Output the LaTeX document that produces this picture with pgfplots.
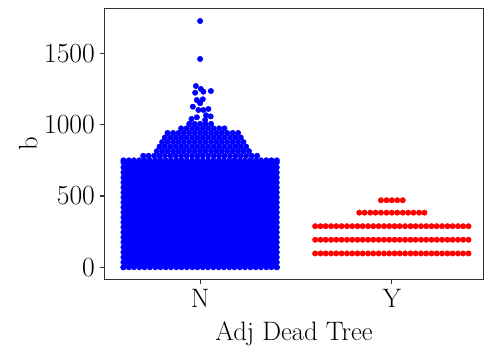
\documentclass[border=0pt]{standalone}
\usepackage{pgfplots}
\usepackage{pgfplotstable}
\pgfplotsset{compat=1.18}
\begin{document}
% N group: bottom and top rows of the dense block
\pgfplotstableread{
x ybot ytop
-0.400 0 750
-0.372 0 750
-0.345 0 750
-0.317 0 750
-0.290 0 750
-0.262 0 750
-0.234 0 750
-0.207 0 750
-0.179 0 750
-0.152 0 750
-0.124 0 750
-0.097 0 750
-0.069 0 750
-0.041 0 750
-0.014 0 750
0.014 0 750
0.041 0 750
0.069 0 750
0.097 0 750
0.124 0 750
0.152 0 750
0.179 0 750
0.207 0 750
0.234 0 750
0.262 0 750
0.290 0 750
0.317 0 750
0.345 0 750
0.372 0 750
0.400 0 750
}\Nrows
% N group: left and right edges of the dense block
\pgfplotstableread{
y xl xr
0 -0.4 0.4
35 -0.4 0.4
70 -0.4 0.4
105 -0.4 0.4
140 -0.4 0.4
175 -0.4 0.4
210 -0.4 0.4
245 -0.4 0.4
280 -0.4 0.4
315 -0.4 0.4
350 -0.4 0.4
385 -0.4 0.4
420 -0.4 0.4
455 -0.4 0.4
490 -0.4 0.4
525 -0.4 0.4
560 -0.4 0.4
595 -0.4 0.4
630 -0.4 0.4
665 -0.4 0.4
700 -0.4 0.4
735 -0.4 0.4
}\Nsides
% Y group: three full rows
\pgfplotstableread{
x ya yb yc
0.600 97 193 288
0.628 97 193 288
0.655 97 193 288
0.683 97 193 288
0.710 97 193 288
0.738 97 193 288
0.766 97 193 288
0.793 97 193 288
0.821 97 193 288
0.848 97 193 288
0.876 97 193 288
0.903 97 193 288
0.931 97 193 288
0.959 97 193 288
0.986 97 193 288
1.014 97 193 288
1.041 97 193 288
1.069 97 193 288
1.097 97 193 288
1.124 97 193 288
1.152 97 193 288
1.179 97 193 288
1.207 97 193 288
1.234 97 193 288
1.262 97 193 288
1.290 97 193 288
1.317 97 193 288
1.345 97 193 288
1.372 97 193 288
1.400 97 193 288
}\Yrows
\begin{tikzpicture}
\begin{axis}[
  scale only axis, width=284.7pt, height=203.5pt,
  xmin=-0.5, xmax=1.48, ymin=-86.5, ymax=1816.5,
  xtick={0,1}, xticklabels={N,Y},
  ytick={0,500,1000,1500},
  /pgf/number format/set thousands separator={},
  tick align=outside, xtick pos=bottom, ytick pos=left,
  major tick length=3.5pt,
  axis line style={black!80, line width=0.8pt},
  tick style={black!80, line width=0.8pt},
  tick label style={font=\fontsize{20}{24}\selectfont},
  label style={font=\fontsize{20}{24}\selectfont},
  xlabel={Adj Dead Tree}, ylabel={b},
  xlabel style={yshift=-4pt},
  ylabel style={yshift=-2pt},
  clip=false,
  dots/.style={only marks, mark=*, mark size=2pt, mark options={draw=none}},
]
% dense body of the N swarm
\addplot[fill=blue, draw=none, mark=none] coordinates {(-0.4,0) (-0.4,750) (0.4,750) (0.4,0)} -- cycle;
\addplot[dots, blue] table[x=x,y=ybot] {\Nrows};
\addplot[dots, blue] table[x=x,y=ytop] {\Nrows};
\addplot[dots, blue] table[x=xl,y=y] {\Nsides};
\addplot[dots, blue] table[x=xr,y=y] {\Nsides};
% crown of the N swarm
\addplot[dots, blue] coordinates {
(-0.297,782) (-0.269,782) (-0.240,782) (-0.212,782) (-0.184,782) (-0.156,782) (-0.127,782) (-0.099,782) (-0.071,782) (-0.042,782) (-0.014,782)
(0.014,782) (0.042,782) (0.071,782) (0.099,782) (0.127,782) (0.156,782) (0.184,782) (0.212,782) (0.240,782) (0.269,782) (0.297,782)
(-0.226,814) (-0.198,814) (-0.170,814) (-0.141,814) (-0.113,814) (-0.085,814) (-0.057,814) (-0.028,814) (0.000,814)
(0.028,814) (0.057,814) (0.085,814) (0.113,814) (0.141,814) (0.170,814) (0.198,814) (0.226,814) (0.255,814)
(-0.212,846) (-0.184,846) (-0.156,846) (-0.127,846) (-0.099,846) (-0.071,846) (-0.042,846) (-0.014,846)
(0.014,846) (0.042,846) (0.071,846) (0.099,846) (0.127,846) (0.156,846) (0.184,846) (0.212,846) (0.240,846)
(-0.198,878) (-0.170,878) (-0.141,878) (-0.113,878) (-0.085,878) (-0.057,878) (-0.028,878) (0.000,878)
(0.028,878) (0.057,878) (0.085,878) (0.113,878) (0.141,878) (0.170,878) (0.198,878) (0.226,878)
(-0.184,910) (-0.156,910) (-0.127,910) (-0.099,910) (-0.071,910) (-0.042,910) (-0.014,910)
(0.014,910) (0.042,910) (0.071,910) (0.099,910) (0.127,910) (0.156,910) (0.184,910) (0.212,910)
(-0.170,942) (-0.141,942) (-0.113,942) (-0.085,942) (-0.057,942) (-0.028,942) (0.000,942)
(0.028,942) (0.057,942) (0.085,942) (0.113,942) (0.141,942) (0.170,942) (0.198,942)
(-0.099,974) (-0.071,974) (-0.042,974) (-0.014,974) (0.014,974) (0.042,974) (0.071,974) (0.099,974) (0.127,974)
(-0.057,1006) (-0.028,1006) (0.000,1006) (0.028,1006) (0.057,1006)
(0.026,1033) (-0.045,1040) (-0.017,1052) (0.031,1066) (0.055,1058)
(-0.009,1103) (0.017,1103) (0.043,1110) (-0.038,1126) (0.000,1150)
(-0.017,1173) (0.014,1178) (-0.026,1224) (0.017,1231) (0.056,1236)
(0.004,1250) (-0.022,1271) (0.000,1461) (0.000,1727)
};
% Y group
\addplot[dots, red] table[x=x,y=ya] {\Yrows};
\addplot[dots, red] table[x=x,y=yb] {\Yrows};
\addplot[dots, red] table[x=x,y=yc] {\Yrows};
\addplot[dots, red] coordinates {
(0.830,383) (0.858,383) (0.887,383) (0.915,383) (0.943,383) (0.972,383) (1.000,383)
(1.028,383) (1.057,383) (1.085,383) (1.113,383) (1.142,383) (1.170,383)
(0.943,470) (0.972,470) (1.000,470) (1.028,470) (1.057,470)
};
\end{axis}
\pgfresetboundingbox
\path (current axis.south west) ++(-78.2pt,-55.05pt) rectangle ++(363pt,264.75pt);
\end{tikzpicture}
\end{document}
